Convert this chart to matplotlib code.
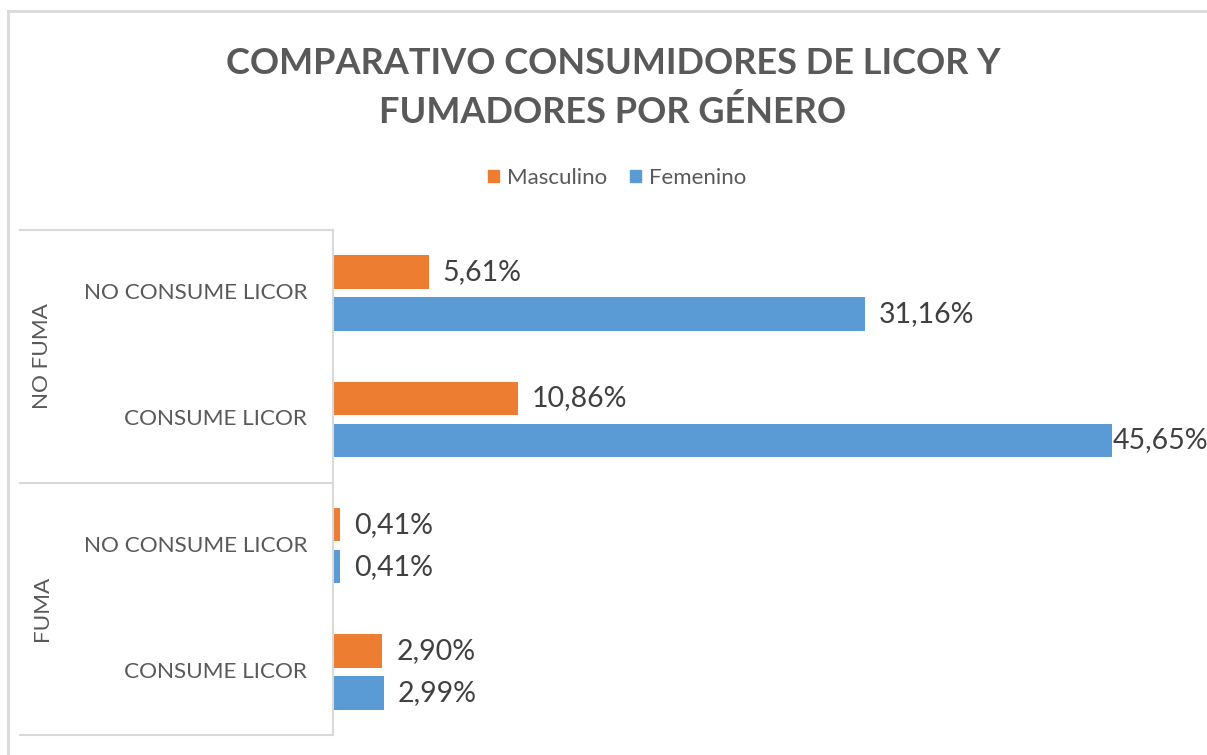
import matplotlib.pyplot as plt
import matplotlib.patches as mpatches
import matplotlib.transforms as mtrans
import numpy as np

# data
groups = ['NO FUMA', 'FUMA']
categories = ['NO CONSUME LICOR', 'CONSUME LICOR', 'NO CONSUME LICOR', 'CONSUME LICOR']
masculino = [5.61, 10.86, 0.41, 2.90]
femenino = [31.16, 45.65, 0.41, 2.99]
series_names = ['Masculino', 'Femenino']
title_lines = ['COMPARATIVO CONSUMIDORES DE LICOR Y', 'FUMADORES POR GÉNERO']

ORANGE = '#ED7D31'
BLUE = '#5B9BD5'
GRID = '#D9D9D9'
TXT = '#595959'
LBL = '#404040'

plt.rcParams['font.family'] = ['Lato', 'DejaVu Sans']

W, H = 1207, 755
fig = plt.figure(figsize=(W / 100, H / 100), dpi=100)


def fx(px):
    return px / W


def fy(py):
    return 1 - py / H


ax = fig.add_axes([fx(333), fy(735), fx(1112) - fx(333), fy(230) - fy(735)])

y = np.arange(len(categories))
bh = 0.265
off = 0.166
ax.barh(y - off, masculino, height=bh, color=ORANGE, label=series_names[0])
ax.barh(y + off, femenino, height=bh, color=BLUE, label=series_names[1])

ax.set_xlim(0, max(femenino))
ax.set_ylim(len(categories) - 0.5, -0.5)

# data labels
vmax = max(femenino)
for vals, sign in ((masculino, -1), (femenino, 1)):
    for yi, v in zip(y, vals):
        dx = 0.5 if v == vmax else 10
        ax.annotate(f'{v:.2f}%'.replace('.', ','), (v, yi + sign * off),
                    xytext=(dx, 0), textcoords='offset points',
                    ha='left', va='center', fontsize=20.5, color=LBL,
                    annotation_clip=False)

for s in ['top', 'right', 'bottom']:
    ax.spines[s].set_visible(False)
ax.spines['left'].set_color(GRID)
ax.spines['left'].set_linewidth(1.5)
ax.set_xticks([])
ax.set_yticks([])

# category labels and grouping box
lab_tr = mtrans.blended_transform_factory(fig.transFigure, ax.transData)
for yi, c in zip(y, categories):
    fig.text(fx(307), 0, c, transform=lab_tr, ha='right', va='center',
             fontsize=16.2, color=TXT).set_y(yi)

for yb in (-0.5, 1.5, 3.5):
    ax.plot([fx(20), fx(333)], [yb, yb], transform=lab_tr, color=GRID,
            lw=1.5, clip_on=False)

for gi, g in enumerate(groups):
    t = fig.text(fx(42), 0, g, transform=lab_tr, ha='center', va='center',
                 rotation=90, fontsize=16.2, color=TXT)
    t.set_y(gi * 2 + 0.5)

# chart border (top and left visible)
fig.add_artist(plt.Line2D([fx(8), 1], [fy(11), fy(11)], color=GRID, lw=2))
fig.add_artist(plt.Line2D([fx(8), fx(8)], [fy(11), 0], color=GRID, lw=2))

for ty, line in zip((63, 112), title_lines):
    fig.text(fx(613), fy(ty), line, ha='center', va='center', fontsize=26,
             fontweight='bold', color=TXT)

handles = [mpatches.Patch(color=ORANGE), mpatches.Patch(color=BLUE)]
fig.legend(handles, series_names, loc='center', bbox_to_anchor=(fx(617), fy(178)),
           ncol=2, frameon=False, fontsize=16, handlelength=0.48, handleheight=0.48,
           handletextpad=0.35, columnspacing=1.05, labelcolor=TXT)

fig.savefig('out.png', dpi=100, facecolor='white')
